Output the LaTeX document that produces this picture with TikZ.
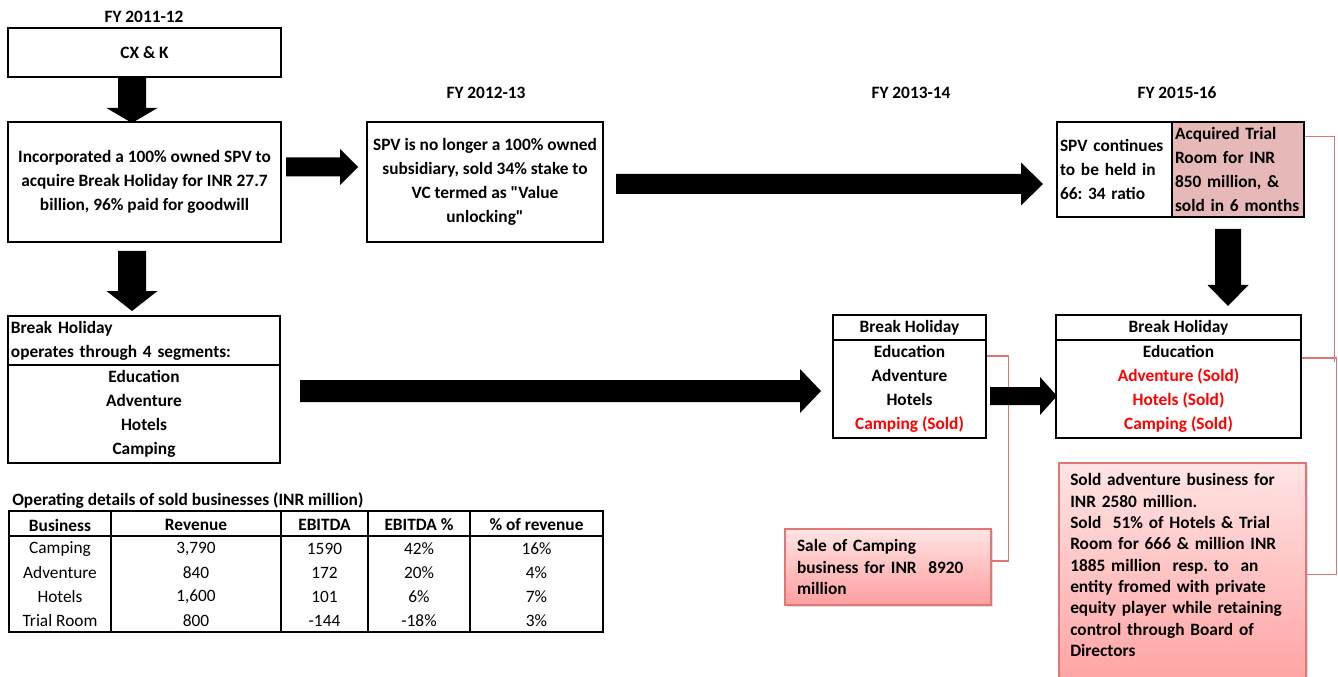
\documentclass[tikz,border=0pt]{standalone}
\usepackage{fontspec}
\setmainfont{Carlito}
\newfontfamily\carl{Carlito}
\usetikzlibrary{calc,shadows}
\definecolor{pinkfill}{RGB}{230,184,183}
\definecolor{callborder}{RGB}{222,120,118}
\definecolor{calltop}{RGB}{255,228,228}
\definecolor{callbot}{RGB}{255,158,158}
\definecolor{connred}{RGB}{222,118,118}
\definecolor{soldred}{RGB}{255,0,0}
% horizontal block arrow: start, tip, half shaft, half head, head length
\newcommand\blockH[5]{\fill ($(#1)+(0,-#3)$) -- ($(#2)+(-#5,-#3)$) -- ($(#2)+(-#5,-#4)$) -- (#2) -- ($(#2)+(-#5,#4)$) -- ($(#2)+(-#5,#3)$) -- ($(#1)+(0,#3)$) -- cycle;}
% vertical (downward) block arrow
\newcommand\blockV[5]{\fill ($(#1)+(-#3,0)$) -- ($(#2)+(-#3,-#5)$) -- ($(#2)+(-#4,-#5)$) -- (#2) -- ($(#2)+(#4,-#5)$) -- ($(#2)+(#3,-#5)$) -- ($(#1)+(#3,0)$) -- cycle;}
\begin{document}
\begin{tikzpicture}[x=0.75pt,y=-0.75pt,
  every node/.style={font=\carl\frenchspacing\fontsize{13}{18}\selectfont\bfseries, inner sep=0pt},
  box/.style={draw, line width=1.6pt, fill=white, align=center},
  lbox/.style={box, align=left},
  callout/.style={draw=callborder, line width=0.9pt, top color=calltop, bottom color=callbot,
     drop shadow={shadow xshift=1.5pt, shadow yshift=-1.5pt, opacity=0.25}},
  calltext/.style={align=left, font=\carl\frenchspacing\fontsize{13}{16}\selectfont\bfseries},
  conn/.style={draw=connred, line width=0.8pt},
  tline/.style={line width=0.8pt},
  cell/.style={font=\carl\frenchspacing\fontsize{13}{18}\selectfont},
  hcell/.style={font=\carl\frenchspacing\fontsize{13}{18}\selectfont\bfseries}
]
\useasboundingbox (0,0) rectangle (1338,677);

% titles
\node (fy1) at (144,17) {FY 2011-12};
\node (fy2) at (486,93) {FY 2012-13};
\node (fy3) at (911,93) {FY 2013-14};
\node (fy4) at (1177,93) {FY 2015-16};

% boxes
\node[box, minimum width=273*0.75pt, minimum height=49*0.75pt] (cxk) at (144.5,52.5) {CX \& K};
\node[box, minimum width=273*0.75pt, minimum height=120*0.75pt] (inc) at (144.5,182)
  {Incorporated a 100\% owned SPV to\\acquire Break Holiday for INR 27.7\\billion, 96\% paid for goodwill};
\node[box, minimum width=236*0.75pt, minimum height=120*0.75pt] (spv) at (485,182)
  {SPV is no longer a 100\% owned\\subsidiary, sold 34\% stake to\\VC termed as "Value\\unlocking"};
\node[lbox, minimum width=115*0.75pt, minimum height=95*0.75pt, text width=109*0.75pt] (spvc) at (1114.5,169.5)
  {SPV continues\\to be held in\\66: 34 ratio};
\node[lbox, fill=pinkfill, minimum width=132*0.75pt, minimum height=95*0.75pt, text width=126*0.75pt] (acq) at (1238,169.5)
  {Acquired Trial\\Room for INR\\850 million, \&\\sold in 6 months};

% Break Holiday (2011-12)
\node[lbox, minimum width=272*0.75pt, minimum height=50*0.75pt, text width=266*0.75pt] (bh1h) at (144,341)
  {Break Holiday\\operates through 4 segments:};
\node[box, minimum width=272*0.75pt, minimum height=98*0.75pt] (bh1b) at (144,414)
  {Education\\Adventure\\Hotels\\Camping};

% Break Holiday (2013-14)
\node[box, minimum width=153*0.75pt, minimum height=25*0.75pt] (bh2h) at (909.5,327.5) {Break Holiday};
\node[box, minimum width=153*0.75pt, minimum height=98*0.75pt] (bh2b) at (909.5,389)
  {Education\\Adventure\\Hotels\\\textcolor{soldred}{Camping (Sold)}};

% Break Holiday (2015-16)
\node[box, minimum width=245*0.75pt, minimum height=25*0.75pt] (bh3h) at (1178.5,327.5) {Break Holiday};
\node[box, minimum width=245*0.75pt, minimum height=98*0.75pt] (bh3b) at (1178.5,389)
  {Education\\\textcolor{soldred}{Adventure (Sold)}\\\textcolor{soldred}{Hotels (Sold)}\\\textcolor{soldred}{Camping (Sold)}};

% callouts
\node[callout, minimum width=206*0.75pt, minimum height=76*0.75pt] (camp) at (888,567) {};
\node[calltext, text width=182*0.75pt] (camptext) at (888,567)
  {Sale of Camping\\business for INR\ \ 8920\\million};
\node[callout, minimum width=247*0.75pt, minimum height=237*0.75pt] (adv) at (1182.5,581.5) {};
\node[calltext, anchor=west, text width=232*0.75pt] (advtext) at (1070,565)
  {Sold adventure business for\\INR 2580 million.\\Sold\ \ 51\% of Hotels \& Trial\\Room for 666 \& million INR\\1885 million\ \ resp. to\ \ an\\entity fromed with private\\equity player while retaining\\control through Board of\\Directors};

% callout connectors
\draw[conn] ([yshift=24.75pt]bh2b.east) -- ++(21,0) |- ([yshift=4.5pt]camp.east);
\draw[conn] ([yshift=24.4pt]acq.east) -- ++(29,0) -- ++(0,225);
\draw[conn] ([yshift=23.25pt]bh3b.east) -- ++(34,0) |- ([yshift=5.6pt]adv.east);

% block arrows
\coordinate (a1s) at (132,77);   \coordinate (a1e) at (132,123);
\coordinate (a5s) at (132,251);  \coordinate (a5e) at (132,311);
\coordinate (a4s) at (1228,229); \coordinate (a4e) at (1228,306);
\coordinate (a2s) at (286,167);  \coordinate (a2e) at (358,167);
\coordinate (a3s) at (616,184);  \coordinate (a3e) at (1043,184);
\coordinate (a6s) at (300,391);  \coordinate (a6e) at (821,391);
\coordinate (a7s) at (990,396);  \coordinate (a7e) at (1057,396);
\blockV{a1s}{a1e}{14}{25.5}{15}
\blockV{a5s}{a5e}{14}{25.5}{20}
\blockV{a4s}{a4e}{13}{20.5}{21}
\blockH{a2s}{a2e}{9.5}{18}{18}
\blockH{a3s}{a3e}{10}{21.5}{22}
\blockH{a6s}{a6e}{11}{22}{21}
\blockH{a7s}{a7e}{9}{19}{17}

% table
\node[anchor=west] (ttitle) at (12,501) {Operating details of sold businesses (INR million)};
\draw[tline] (9,511) rectangle (603,632);
\draw[tline] (9,536) -- (603,536);
\foreach \x in {111,281,368,470} \draw[tline] (\x,511) -- (\x,632);
\node[hcell] (h1) at (60,525) {Business};
\node[hcell] (h2) at (196,525) {Revenue};
\node[hcell] (h3) at (324.5,525) {EBITDA};
\node[hcell] (h4) at (419,525) {EBITDA \%};
\node[hcell] (h5) at (536.5,525) {\% of revenue};
\node[cell] (r1c1) at (60,549) {Camping};
\node[cell] (r1c2) at (196,549) {3,790};
\node[cell] (r1c3) at (324.5,549) {1590};
\node[cell] (r1c4) at (419,549) {42\%};
\node[cell] (r1c5) at (536.5,549) {16\%};
\node[cell] (r2c1) at (60,573) {Adventure};
\node[cell] (r2c2) at (196,573) {840};
\node[cell] (r2c3) at (324.5,573) {172};
\node[cell] (r2c4) at (419,573) {20\%};
\node[cell] (r2c5) at (536.5,573) {4\%};
\node[cell] (r3c1) at (60,597) {Hotels};
\node[cell] (r3c2) at (196,597) {1,600};
\node[cell] (r3c3) at (324.5,597) {101};
\node[cell] (r3c4) at (419,597) {6\%};
\node[cell] (r3c5) at (536.5,597) {7\%};
\node[cell] (r4c1) at (60,621) {Trial Room};
\node[cell] (r4c2) at (196,621) {800};
\node[cell] (r4c3) at (324.5,621) {-144};
\node[cell] (r4c4) at (419,621) {-18\%};
\node[cell] (r4c5) at (536.5,621) {3\%};
\end{tikzpicture}
\end{document}
